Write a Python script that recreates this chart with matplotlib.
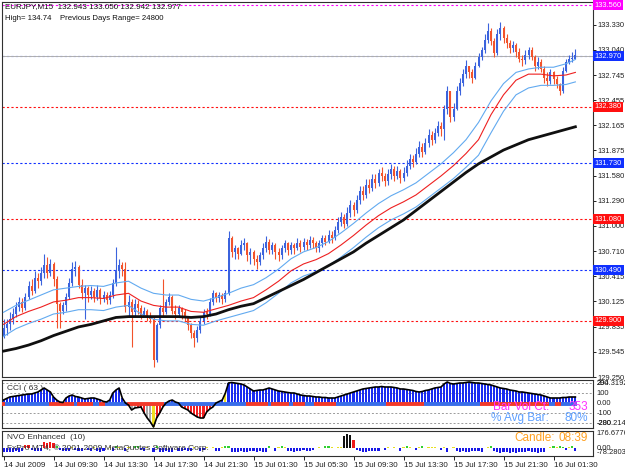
import matplotlib
matplotlib.use("Agg")
import matplotlib.pyplot as plt
from matplotlib.transforms import blended_transform_factory
import numpy as np

plt.rcParams['font.family'] = ['Liberation Sans', 'DejaVu Sans']

# ---- price data (EURJPY M15) ----
first_open = 129.72
closes = [129.82, 129.86, 129.92, 129.98, 130.06, 130.12, 130.05, 130.18, 130.30, 130.25,
          130.40, 130.36, 130.46, 130.55, 130.45, 130.56, 130.38, 130.10, 130.02, 130.08,
          130.18, 130.34, 130.50, 130.52, 130.32, 130.22, 130.28, 130.20, 130.25, 130.18,
          130.26, 130.16, 130.20, 130.14, 130.20, 130.34, 130.48, 130.55, 130.50, 130.06,
          130.12, 130.00, 130.10, 130.05, 129.96, 130.02, 129.95, 129.92, 129.45, 129.85,
          130.05, 130.00, 130.12, 130.18, 130.02, 129.98, 130.05, 130.00, 129.94, 129.85,
          129.76, 129.70, 129.80, 129.90, 130.00, 129.98, 130.12, 130.22, 130.16, 130.20,
          130.15, 130.22, 130.86, 130.70, 130.74, 130.68, 130.78, 130.80, 130.66, 130.70,
          130.62, 130.58, 130.66, 130.75, 130.82, 130.72, 130.78, 130.70, 130.66, 130.74,
          130.80, 130.72, 130.78, 130.74, 130.80, 130.76, 130.82, 130.78, 130.84, 130.80,
          130.74, 130.80, 130.86, 130.82, 130.90, 130.86, 130.95, 131.05, 131.10, 131.02,
          131.15, 131.24, 131.18, 131.30, 131.40, 131.36, 131.48, 131.44, 131.55, 131.50,
          131.62, 131.58, 131.52, 131.60, 131.66, 131.58, 131.64, 131.56, 131.62, 131.70,
          131.78, 131.74, 131.84, 131.92, 131.86, 131.96, 132.06, 132.00, 132.08, 132.16,
          132.12, 132.36, 132.56, 132.26, 132.36, 132.56, 132.66, 132.76, 132.86, 132.78,
          132.72, 132.86, 132.96, 133.04, 133.16, 133.26, 133.14, 133.00, 133.22, 133.30,
          133.18, 133.12, 133.06, 133.10, 133.02, 132.94, 132.92, 132.98, 133.04, 132.96,
          132.86, 132.90, 132.82, 132.72, 132.68, 132.78, 132.70, 132.64, 132.56, 132.80,
          132.90, 132.94, 132.94, 132.977]
highs = [129.92, 129.92, 130.00, 130.05, 130.12, 130.18, 130.17, 130.22, 130.36, 130.38,
         130.48, 130.45, 130.52, 130.68, 130.64, 130.62, 130.58, 130.42, 130.12, 130.12,
         130.22, 130.40, 130.58, 130.60, 130.55, 130.38, 130.32, 130.30, 130.30, 130.28,
         130.32, 130.28, 130.25, 130.24, 130.25, 130.38, 130.76, 130.62, 130.58, 130.58,
         130.20, 130.15, 130.15, 130.14, 130.08, 130.06, 130.04, 130.00, 129.95, 129.88,
         130.08, 130.38, 130.15, 130.22, 130.20, 130.08, 130.08, 130.06, 130.04, 129.96,
         129.88, 129.80, 129.84, 129.94, 130.04, 130.05, 130.16, 130.26, 130.24, 130.24,
         130.22, 130.26, 130.94, 130.88, 130.78, 130.76, 130.84, 130.86, 130.82, 130.74,
         130.72, 130.66, 130.70, 130.80, 130.88, 130.85, 130.82, 130.80, 130.74, 130.78,
         130.84, 130.82, 130.82, 130.80, 130.86, 130.84, 130.86, 130.85, 130.88, 130.87,
         130.83, 130.84, 130.90, 130.90, 130.95, 130.94, 131.00, 131.10, 131.16, 131.14,
         131.22, 131.30, 131.28, 131.36, 131.46, 131.46, 131.54, 131.54, 131.60, 131.60,
         131.66, 131.68, 131.62, 131.66, 131.72, 131.70, 131.70, 131.66, 131.68, 131.76,
         131.84, 131.82, 131.90, 131.98, 131.96, 132.02, 132.12, 132.10, 132.14, 132.22,
         132.20, 132.40, 132.62, 132.52, 132.42, 132.62, 132.72, 132.82, 132.92, 132.86,
         132.82, 132.90, 133.00, 133.08, 133.22, 133.35, 133.30, 133.18, 133.28, 133.36,
         133.32, 133.22, 133.16, 133.14, 133.12, 133.06, 132.98, 133.04, 133.08, 133.08,
         132.98, 132.96, 132.94, 132.86, 132.78, 132.82, 132.80, 132.74, 132.66, 132.84,
         132.94, 132.98, 133.02, 133.05]
lows = [129.70, 129.74, 129.80, 129.86, 129.95, 130.02, 130.00, 130.03, 130.15, 130.20,
        130.22, 130.28, 130.32, 130.40, 130.40, 130.42, 130.30, 129.82, 129.82, 129.98,
        130.02, 130.15, 130.30, 130.42, 130.28, 130.15, 129.92, 130.12, 130.15, 130.12,
        130.14, 130.10, 130.12, 130.10, 130.10, 130.16, 130.30, 130.40, 130.42, 130.00,
        129.95, 129.60, 129.95, 129.98, 129.92, 129.94, 129.90, 129.88, 129.37, 129.42,
        129.82, 129.95, 129.98, 130.08, 129.98, 129.92, 129.95, 129.92, 129.90, 129.80,
        129.70, 129.60, 129.66, 129.76, 129.86, 129.92, 129.96, 130.08, 130.12, 130.12,
        130.10, 130.12, 130.20, 130.64, 130.62, 130.62, 130.66, 130.72, 130.60, 130.56,
        130.55, 130.50, 130.55, 130.62, 130.70, 130.68, 130.68, 130.62, 130.60, 130.62,
        130.70, 130.66, 130.68, 130.68, 130.72, 130.70, 130.72, 130.72, 130.74, 130.74,
        130.70, 130.70, 130.76, 130.78, 130.80, 130.80, 130.84, 130.92, 131.00, 130.98,
        131.00, 131.10, 131.12, 131.15, 131.26, 131.30, 131.32, 131.38, 131.40, 131.44,
        131.46, 131.52, 131.46, 131.48, 131.55, 131.52, 131.55, 131.50, 131.52, 131.58,
        131.66, 131.68, 131.72, 131.80, 131.80, 131.84, 131.92, 131.94, 131.96, 132.04,
        132.04, 132.00, 132.30, 132.20, 132.22, 132.34, 132.52, 132.62, 132.72, 132.72,
        132.66, 132.70, 132.84, 132.92, 133.00, 133.12, 133.10, 132.96, 132.98, 133.16,
        133.12, 133.06, 133.00, 133.02, 132.96, 132.90, 132.86, 132.88, 132.94, 132.92,
        132.80, 132.82, 132.78, 132.66, 132.62, 132.64, 132.64, 132.60, 132.52, 132.54,
        132.78, 132.88, 132.90, 132.942]

# moving averages, read every 4th bar
ma_bars = list(range(0, 184, 4)) + [183]
ma_slow = [129.55, 129.58, 129.62, 129.67, 129.73, 129.78, 129.83, 129.86, 129.90, 129.94,
           129.95, 129.95, 129.95, 129.95, 129.95, 129.94, 129.95, 129.98, 130.03, 130.07,
           130.10, 130.17, 130.24, 130.31, 130.38, 130.46, 130.54, 130.62, 130.70, 130.80,
           130.89, 130.98, 131.07, 131.18, 131.29, 131.40, 131.51, 131.62, 131.72, 131.80,
           131.88, 131.94, 132.00, 132.04, 132.08, 132.12, 132.15]
ma_mid = [129.86, 129.95, 130.01, 130.06, 130.12, 130.14, 130.17, 130.17, 130.16, 130.20,
          130.22, 130.13, 130.08, 130.06, 130.06, 130.01, 130.00, 130.04, 130.08, 130.13,
          130.17, 130.26, 130.36, 130.48, 130.56, 130.61, 130.68, 130.78, 130.89, 131.01,
          131.12, 131.21, 131.28, 131.36, 131.47, 131.58, 131.70, 131.84, 132.00, 132.29,
          132.52, 132.69, 132.76, 132.76, 132.74, 132.75, 132.78]
ma_upper = [130.00, 130.08, 130.14, 130.20, 130.26, 130.28, 130.30, 130.31, 130.30, 130.34,
            130.36, 130.28, 130.22, 130.20, 130.20, 130.15, 130.13, 130.17, 130.22, 130.28,
            130.32, 130.40, 130.50, 130.62, 130.70, 130.75, 130.82, 130.92, 131.03, 131.15,
            131.26, 131.35, 131.42, 131.50, 131.61, 131.72, 131.85, 132.00, 132.20, 132.45,
            132.65, 132.78, 132.82, 132.84, 132.84, 132.88, 132.93]
ma_lower = [129.72, 129.81, 129.87, 129.92, 129.98, 130.00, 130.03, 130.03, 130.02, 130.06,
            130.08, 129.98, 129.92, 129.90, 129.90, 129.86, 129.85, 129.90, 129.94, 129.98,
            130.02, 130.11, 130.22, 130.34, 130.42, 130.47, 130.54, 130.64, 130.75, 130.87,
            130.98, 131.07, 131.14, 131.22, 131.33, 131.44, 131.55, 131.68, 131.82, 132.08,
            132.33, 132.52, 132.60, 132.63, 132.63, 132.64, 132.67]

# CCI(63)
cci = [30, 45, 60, 65, 70, 75, 80, 85, 90, 90,
       100, 110, 130, 150, 130, 110, 60, 30, 10, 5,
       50, 70, 80, 65, 60, 50, 40, 45, 50, 50,
       40, 30, 15, 10, 30, 100, 130, 150, 50, 0,
       -20, -70, -50, -45, -40, -100, -150, -190, -240, -150,
       -100, -40, 0, 20, 30, 10, 0, -40, -55, -70,
       -100, -120, -140, -150, -150, -90, -60, -40, 0, 15,
       30, 100, 200, 205, 200, 195, 190, 180, 160, 140,
       120, 125, 130, 130, 140, 150, 140, 130, 120, 115,
       110, 105, 100, 100, 90, 80, 75, 70, 70, 65,
       60, 60, 55, 55, 50, 50, 50, 60, 70, 80,
       90, 100, 110, 120, 130, 140, 145, 150, 155, 160,
       160, 165, 160, 160, 160, 155, 150, 140, 140, 135,
       130, 125, 115, 110, 115, 125, 130, 140, 150, 155,
       160, 190, 210, 195, 190, 195, 200, 200, 205, 210,
       205, 200, 200, 195, 190, 185, 180, 170, 160, 150,
       145, 140, 130, 125, 120, 110, 110, 105, 100, 95,
       90, 85, 80, 70, 60, 50, 50, 50, 50, 55,
       55, 60, 60, 60]
cci_yellow = [48, 71]
cci_gray = [41, 42, 46, 47]
trend_runs = [('r', 1), ('b', 14), ('r', 8), ('b', 1), ('r', 5), ('b', 2), ('r', 2), ('b', 7),
              ('r', 12), ('b', 26), ('r', 7), ('b', 1), ('r', 6), ('b', 1), ('r', 4), ('b', 3),
              ('r', 7), ('b', 16), ('r', 12), ('b', 18), ('r', 22), ('b', 2), ('r', 2), ('b', 5)]

# NVO Enhanced(10)
nvo = [-40, -40, -35, -40, -30, -35, -30, 30, 35, -20,
       -30, -25, -30, 60, 55, 60, 50, 25, -20, -30,
       -25, -30, 10, -20, -25, -30, 8, -20, -25, 10,
       -30, -35, -30, 8, 10, -30, 25, 10, 8, -30,
       10, 8, 25, 20, -20, -30, 10, 8, -35, 20,
       -40, -40, -30, -35, -40, 8, -30, -25, -20, -30,
       -30, 10, 8, -25, -20, 10, 8, 12, -25, -30,
       10, 25, 25, -35, -40, -35, -30, -40, -35, -30,
       -25, -35, -30, -40, -35, 25, 8, -30, 10, 20,
       10, -25, -30, -35, -30, -25, -20, -30, -25, -20,
       8, 10, 8, 25, 20, 10, 8, 12, 10, 130,
       150, 140, 80, -20, -30, -40, -35, -30, -25, -25,
       -25, 8, -20, 10, 8, 10, 8, -25, 10, 25,
       10, 8, -20, 10, 25, 8, 10, 12, 10, 8,
       -20, 10, -35, 8, 10, -30, -35, -30, -40, -35,
       -30, -25, -30, -35, 8, 10, 20, -25, -40, -45,
       -40, -35, -45, -40, -45, -40, -35, -40, -30, -35,
       -40, -45, -35, -40, 8, 10, 20, 10, 25, 15,
       -20, 10, 20, -30]

date_labels = ["14 Jul 2009", "14 Jul 09:30", "14 Jul 13:30", "14 Jul 17:30",
               "14 Jul 21:30", "15 Jul 01:30", "15 Jul 05:30", "15 Jul 09:30",
               "15 Jul 13:30", "15 Jul 17:30", "15 Jul 21:30", "16 Jul 01:30"]
price_ticks = [133.330, 133.040, 132.745, 132.455, 132.165, 131.875, 131.580, 131.290,
               131.000, 130.710, 130.415, 130.125, 129.835, 129.545, 129.250]
levels = [(133.560, '#ff00ff'), (132.970, '#1030ff'), (132.380, '#ff1010'),
          (131.730, '#1030ff'), (131.080, '#ff1010'), (130.490, '#1030ff'),
          (129.900, '#ff1010')]

# ---- figure ----
W, H = 625, 469
fig = plt.figure(figsize=(W / 100, H / 100), dpi=100)
fig.patch.set_facecolor('white')

def px_axes(x0, y0, x1, y1):
    return fig.add_axes([x0 / W, 1 - y1 / H, (x1 - x0) / W, (y1 - y0) / H])

ax = px_axes(2, 2, 593, 377)
ax2 = px_axes(2, 380, 593, 428)
ax3 = px_axes(2, 431, 593, 456)

n = len(closes)
x = np.arange(n)
c = np.array(closes)
o = np.r_[first_open, c[:-1]]
hi = np.maximum(np.array(highs), np.maximum(o, c))
lo = np.minimum(np.array(lows), np.minimum(o, c))
BLUE, RED = '#3b63dd', '#f2532b'
col = np.where(c >= o, BLUE, RED)
xlim = (-0.48, 188.64)
LBL = 5.4

for a in (ax, ax2, ax3):
    a.set_xlim(*xlim)
    a.set_facecolor('white')
    for s in a.spines.values():
        s.set_linewidth(0.8)
        s.set_color('#303030')
    a.set_xticks([])

# main panel
ax.set_ylim(129.262, 133.596)
for lvl, lc in levels:
    ax.axhline(lvl, color=lc, lw=0.8, ls=(0, (2, 2)), zorder=1)
ax.axhline(132.970, color='#b0b0b0', lw=0.7, zorder=1)
ax.vlines(x, lo, hi, colors=col, lw=0.8, zorder=3)
body = c - o
body = np.where(np.abs(body) < 0.012, 0.012, body)
ax.bar(x, body, bottom=o, width=0.62, color=col, linewidth=0, zorder=3)
ax.plot(ma_bars, ma_upper, color='#62aaf0', lw=0.8, zorder=4)
ax.plot(ma_bars, ma_lower, color='#62aaf0', lw=0.8, zorder=4)
ax.plot(ma_bars, ma_mid, color='#ee2020', lw=0.8, zorder=4)
ax.plot(ma_bars, ma_slow, color='#101010', lw=2.0, zorder=5)

ax.yaxis.tick_right()
ax.set_yticks(price_ticks)
ax.set_yticklabels(['%.3f' % t for t in price_ticks])
ax.tick_params(axis='y', length=2.5, width=0.7, pad=1.0, labelsize=LBL, colors='#202020')

tr = blended_transform_factory(ax.transAxes, ax.transData)
for lvl, lc in levels:
    ax.text(1.003, lvl, '%.3f' % lvl, transform=tr, ha='left', va='center', fontsize=LBL,
            color='white', zorder=10, clip_on=False,
            bbox=dict(boxstyle='square,pad=0.2', fc=lc, ec='none'))

ax.text(3 / 591, 1 - 5 / 375, 'EURJPY,M15  132.943 133.050 132.942 132.977',
        transform=ax.transAxes, ha='left', va='center', fontsize=5.8, color='#101010')
ax.text(3 / 591, 1 - 16 / 375, 'High= 134.74    Previous Days Range= 24800',
        transform=ax.transAxes, ha='left', va='center', fontsize=5.6, color='#101010')

# CCI panel
ax2.set_ylim(-250, 230)
for lv in (200, 100, -100, -200):
    ax2.axhline(lv, color='#9a9a9a', lw=0.7, ls=(0, (2, 2)), zorder=1)
cci_arr = np.array(cci)
ccol = np.where(cci_arr >= 0, '#1a2cf0', '#f22020').astype(object)
for i in cci_yellow:
    ccol[i] = '#f0e020'
for i in cci_gray:
    ccol[i] = '#a8a8a8'
ax2.bar(x, cci_arr, width=0.68, color=list(ccol), linewidth=0, zorder=2)
start = 0
for cc, ln in trend_runs:
    ax2.hlines(-6, start - 0.5, start + ln - 0.5, color='#f23a2a' if cc == 'r' else '#3a6ee8',
               lw=2.8, zorder=3)
    start += ln
ax2.plot(x, cci_arr, color='black', lw=1.2, zorder=4)
ax2.set_yticks([])
ax2.text(5 / 591, 0.83, 'CCI ( 63 )', transform=ax2.transAxes, fontsize=6, color='#303030',
         ha='left', va='center')
tr2 = blended_transform_factory(ax2.transAxes, ax2.transData)
for v, s in [(200, '200'), (200, '294.3192'), (100, '100'), (0, '0.00'), (-100, '-100'),
             (-200, '-200'), (-200, '-280.214')]:
    ax2.text(1.006, v, s, transform=tr2, ha='left', va='center', fontsize=LBL,
             color='#202020', clip_on=False)
ax2.text(548 / 591 - 0.002, -40, 'Bar Vol Ct:', transform=tr2, ha='right', va='center',
         fontsize=8.5, color='#ff30ff', zorder=6)
ax2.text(586 / 591, -40, '353', transform=tr2, ha='right', va='center', fontsize=8.5,
         color='#ff30ff', zorder=6)
ax2.text(548 / 591 - 0.002, -150, '% Avg Bar:', transform=tr2, ha='right', va='center',
         fontsize=8.5, color='#5fa0ff', zorder=6)
ax2.text(586 / 591, -150, '80%', transform=tr2, ha='right', va='center', fontsize=8.5,
         color='#5fa0ff', zorder=6)

# NVO panel
ax3.set_ylim(-78.28, 176.68)
nvo_arr = np.array(nvo)
ncol = []
for v in nvo_arr:
    if v >= 100:
        ncol.append('#101010')
    elif v >= 30:
        ncol.append('#f01818')
    elif v >= 15:
        ncol.append('#30d030')
    elif v > 0:
        ncol.append('#e8e020')
    else:
        ncol.append('#1818e8')
ax3.bar(x, nvo_arr, width=0.68, color=ncol, linewidth=0, zorder=2)
ax3.set_yticks([])
ax3.text(5 / 591, 0.74, 'NVO Enhanced  (10)', transform=ax3.transAxes, fontsize=6,
         color='#303030', ha='left', va='center')
ax3.text(5 / 591, 0.3, 'FxPro MT4, \u00a9 2001-2009 MetaQuotes Software Corp.',
         transform=ax3.transAxes, fontsize=6, color='#303030', ha='left', va='center', zorder=5)
ax3.text(553 / 591, 0.74, 'Candle:', transform=ax3.transAxes, fontsize=8.5, color='#ffa020',
         ha='right', va='center')
ax3.text(586 / 591, 0.74, '08:39', transform=ax3.transAxes, fontsize=8.5, color='#ffa020',
         ha='right', va='center')
tr3 = blended_transform_factory(ax3.transAxes, ax3.transData)
for v, s in [(176.68 - 25, '176.6776'), (0, '0.00'), (-40, '-78.2803')]:
    ax3.text(1.006, v, s, transform=tr3, ha='left', va='center', fontsize=LBL,
             color='#202020', clip_on=False)

ax3.set_xticks(np.arange(len(date_labels)) * 16)
ax3.set_xticklabels(date_labels)
ax3.tick_params(axis='x', length=3, width=0.7, pad=1.5, labelsize=5.8, colors='#202020')
for lbl in ax3.get_xticklabels():
    lbl.set_ha('left')

fig.savefig('out.png', dpi=100, facecolor='white')
